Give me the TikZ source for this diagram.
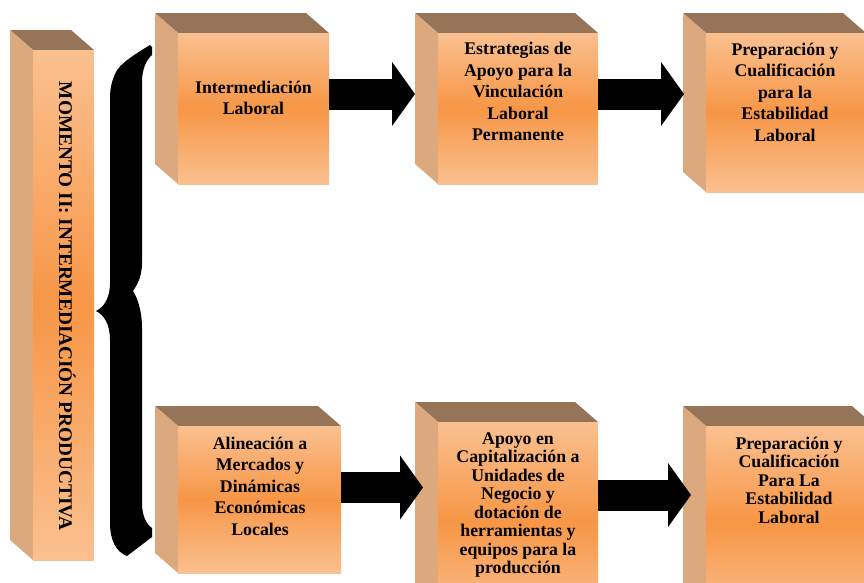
\documentclass[tikz,border=0pt]{standalone}
\usepackage{fontspec}
\setmainfont{Liberation Serif}
\usetikzlibrary{arrows.meta}
\definecolor{cubetop}{RGB}{149,116,87}
\definecolor{cubeside}{RGB}{220,168,126}
\definecolor{facelight}{RGB}{250,192,144}
\definecolor{facemid}{RGB}{247,150,70}
\newcommand\drawcube[5]{%
  \fill[cubetop] (#2,#3) -- (#4-23,#3) -- (#4,#3+20) -- (#2+23,#3+20) -- cycle;
  \fill[cubeside] (#2,#3) -- (#2+23,#3+20) -- (#2+23,#5) -- (#2,#5-20) -- cycle;
  \node[face, minimum width={#4-#2-23}, minimum height={#5-#3-20}, anchor=north west] (#1) at (#2+23,#3+20) {};
}
\tikzset{
  face/.style={inner sep=0pt, outer sep=0pt, draw=none, top color=facelight, bottom color=facelight, middle color=facemid},
  txt/.style={font=\fontsize{17.8}{21.5}\selectfont\bfseries, align=center, inner sep=0pt, text=black},
  txtb/.style={font=\fontsize{17.8}{18.5}\selectfont\bfseries, align=center, inner sep=0pt, text=black},
  bigarrow/.style={draw=black, line width=31pt, -{Triangle[length=23pt,width=63pt]}},
}
\begin{document}
\begin{tikzpicture}[x=1pt,y=-1pt]
\useasboundingbox (0,0) rectangle (864,582);
\fill[white] (0,0) rectangle (864,582);
\begin{scope}
\clip (0,0) rectangle (864,582);
% cubes
\drawcube{m}{10}{30}{94}{560}
\drawcube{f1}{155}{13}{329}{184}
\drawcube{f2}{415}{13}{598}{184}
\drawcube{f3}{683}{13}{866}{192}
\drawcube{f4}{155}{406}{341}{573}
\drawcube{f5}{415}{402}{598}{620}
\drawcube{f6}{683}{406}{875}{620}
% texts
\node[font=\fontsize{19.3}{22}\selectfont\bfseries, inner sep=0pt, rotate=-90, anchor=base] (mt) at (59,306) {MOMENTO II: INTERMEDIACIÓN PRODUCTIVA};
\node[txt] (t1) at (253.5,98) {Intermediación\\Laboral};
\node[txt] (t2) at (518,91.5) {Estrategias de\\Apoyo para la\\Vinculación\\Laboral\\Permanente};
\node[txt] (t3) at (785,92) {Preparación y\\Cualificación\\para la\\Estabilidad\\Laboral};
\node[txt] (t4) at (260,486) {Alineación a\\Mercados y\\Dinámicas\\Económicas\\Locales};
\node[txtb] (t5) at (518,505) {Apoyo en\\Capitalización a\\Unidades de\\Negocio y\\dotación de\\herramientas y\\equipos para la\\producción};
\node[txtb] (t6) at (789,480) {Preparación y\\Cualificación\\Para La\\Estabilidad\\Laboral};
% arrows
\coordinate (s1) at ([yshift=14.5pt]f1.east);
\coordinate (e1) at ([xshift=-23pt]f2.west);
\draw[bigarrow] (s1) -- (e1 |- s1);
\coordinate (s2) at ([yshift=14.5pt]f2.east);
\coordinate (e2) at ([xshift=-22pt]f3.west);
\draw[bigarrow] (s2) -- (e2 |- s2);
\coordinate (s3) at ([yshift=12pt]f4.east);
\coordinate (e3) at ([xshift=-15pt]f5.west);
\draw[bigarrow] (s3) -- (e3 |- s3);
\coordinate (s4) at ([yshift=26pt]f5.east);
\coordinate (e4) at ([xshift=-15pt]f6.west);
\draw[bigarrow] (s4) -- (e4 |- s4);
% brace
\fill[black] (150,45) .. controls (132,56) and (120,64) .. (116,72)
  .. controls (111,82) and (110,90) .. (110,100)
  -- (110,283) .. controls (110,298) and (104,307) .. (96,311)
  .. controls (104,315) and (110,324) .. (110,340)
  -- (110,523) .. controls (110,540) and (116,552) .. (127,556)
  -- (152,537) -- (152,528)
  .. controls (146,524) and (142,515) .. (142,503)
  -- (142,328) .. controls (142,310) and (137,297) .. (133,291)
  .. controls (137,285) and (142,277) .. (142,263)
  -- (142,82) .. controls (142,70) and (146,60) .. (152,55)
  -- (152,47) -- cycle;
\end{scope}
\end{tikzpicture}
\end{document}
